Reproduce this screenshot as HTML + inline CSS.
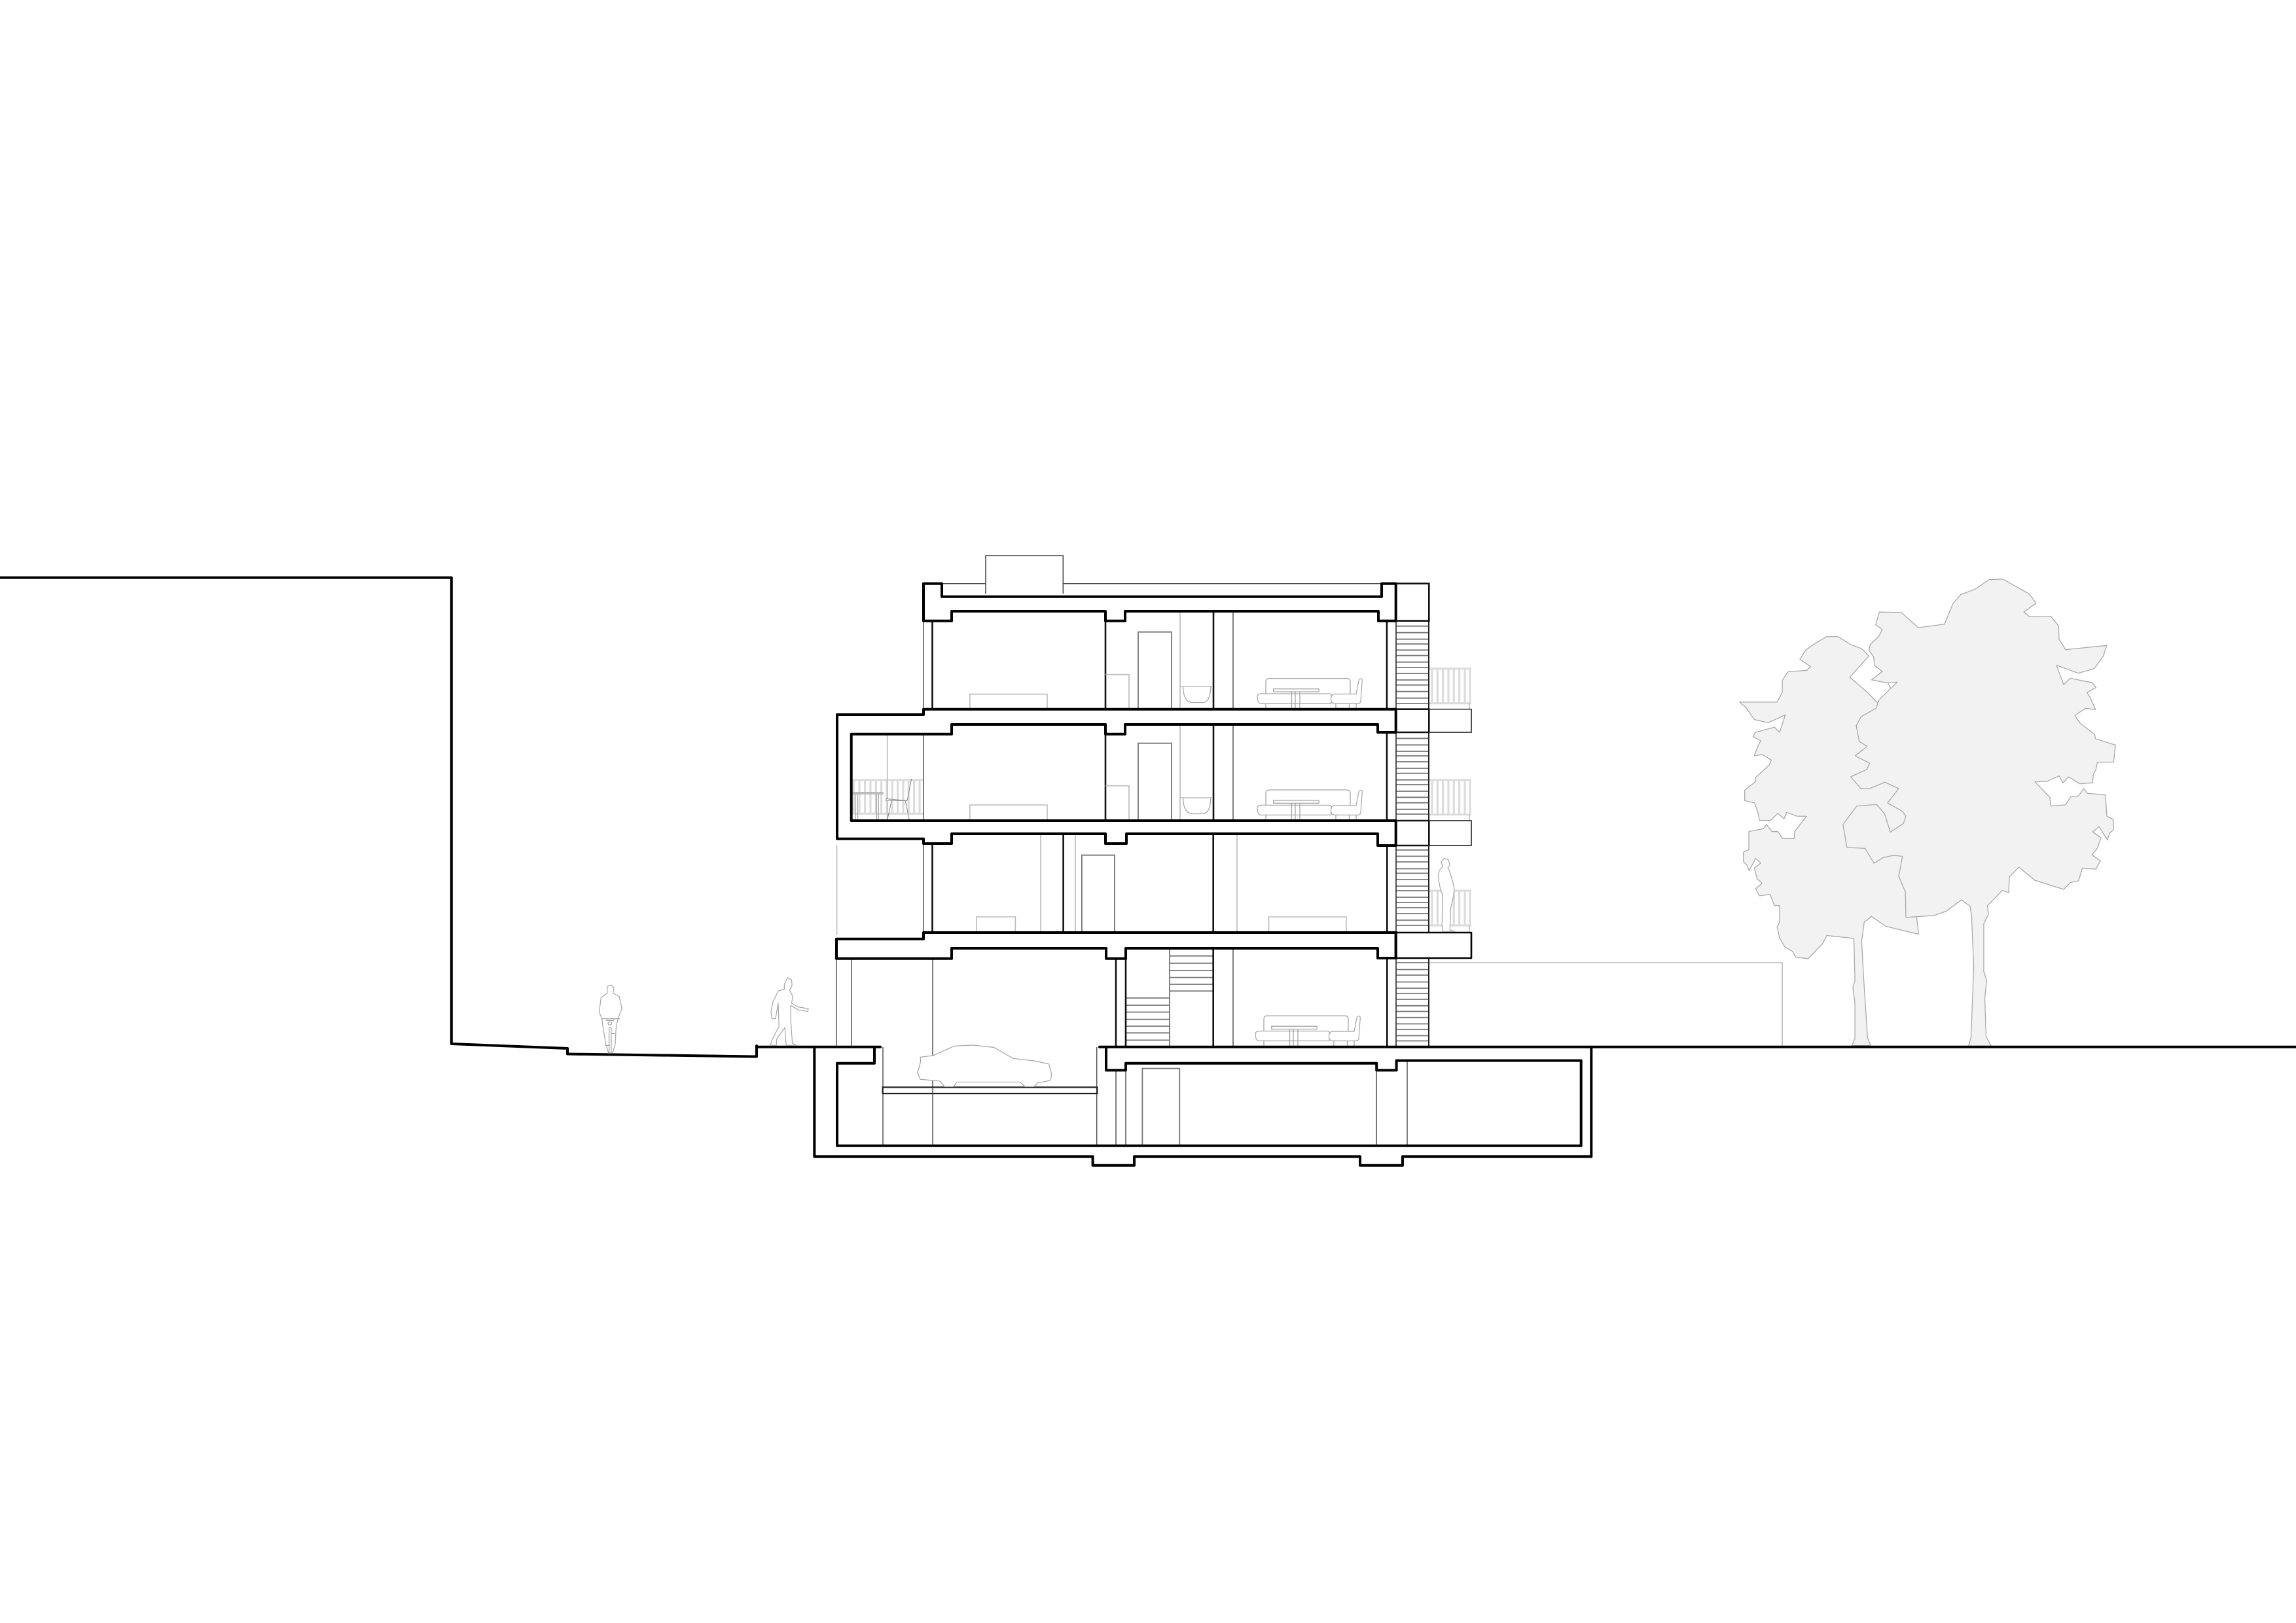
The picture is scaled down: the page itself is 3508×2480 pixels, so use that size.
<!DOCTYPE html>
<html>
<head>
<meta charset="utf-8">
<style>
html,body{margin:0;padding:0;background:#fff}
svg{display:block}
svg *{vector-effect:non-scaling-stroke}
.k{fill:none;stroke:#000;stroke-width:4;stroke-linejoin:round;stroke-linecap:round}
.m{fill:none;stroke:#111;stroke-width:2.6}
.d{fill:none;stroke:#555;stroke-width:1.5}
.s{fill:none;stroke:#777;stroke-width:1.8}
.g{fill:none;stroke:#bbb;stroke-width:1.6}
.f{fill:#fff;stroke:#a5a5a5;stroke-width:1.2;stroke-linejoin:round}
.fn{fill:none;stroke:#a5a5a5;stroke-width:1.3}
.r{fill:none;stroke:#dcdcdc;stroke-width:3.2}
.t{fill:#f2f2f2;stroke:#aaa;stroke-width:1.3;stroke-linejoin:round}
</style>
</head>
<body>
<svg xmlns="http://www.w3.org/2000/svg" width="3508" height="2480" viewBox="0 0 3508 2480">
<defs>
<g id="rail">
  <path class="r" d="M0,0H65M0,53H65M5,0V53M13.300,0V53M21.600,0V53M30,0V53M38.300,0V53M46.600,0V53M55,0V53M63,0V53"/>
  <path class="g" d="M62,53V62"/>
</g>
<g id="furn">
  <path class="fn" d="M1934,1060V1042Q1934,1036.700 1939,1036.700H2058Q2063,1036.700 2063,1042V1060"/>
  <path class="f" d="M1927,1060H2030Q2034,1060 2034,1062V1075H1927Q1923,1075 1922,1071L1921,1065Q1921,1060 1927,1060Z"/>
  <rect x="1945.700" y="1052.700" width="69.500" height="4.300" fill="#fff" stroke="#a5a5a5" stroke-width="1.300"/>
  <path class="fn" d="M1973.500,1057V1083.700M1979,1057V1083.700M1986,1057V1083.700"/>
  <path class="f" d="M2040,1060.500H2072L2076,1040Q2077,1037 2079,1037Q2081.500,1037 2081.300,1040L2079,1071Q2078.500,1075 2075,1075H2040Q2033.500,1075 2033.500,1068Q2033.500,1060.500 2040,1060.500Z"/>
  <path class="fn" d="M1934,1075V1083.700M2041,1075V1083.700M2061.500,1075V1083.700M2072,1075V1083.700"/>
</g>
<g id="sink">
  <path class="g" d="M1803,1049H1852"/>
  <path class="fn" d="M1807.500,1049Q1808,1073 1822,1073.500H1838Q1849,1073 1850,1049"/>
</g>
</defs>

<!-- Trees -->
<g transform="translate(2640,860) scale(0.3953,0.4859)">
<path class="t" d="M479,1518L491,1497L491,1385L483,1337L491,1312L487,1181L382,1172L367,1197L310,1245L262,1240L250,1222L220,1208L200,1180L190,1145L200,1130L200,1078L180,1078L163,1043L122,1047L107,1025L132,1008L113,993L102,960L127,944L107,930L82,968L73,950L60,940L60,910L81,902L81,845L137,836L149,823L170,845L193,845L211,867L257,867L258,845L304,797L268,797L227,785L217,805L193,788L165,810L122,810L115,783L103,755L65,748L65,715L107,688L107,675L160,636L168,620L133,603L102,607L115,578L127,560L97,546L107,533L180,517L200,533L222,478L155,503L102,493L70,455L45,438L190,438L210,408L210,370L232,343L305,338L320,326L278,304L300,275L325,260L382,232L425,232L475,257L517,270L545,293L471,360L540,408L578,440L800,600L730,1115L737,1168L610,1143L555,1112L527,1130L517,1190L525,1310L540,1495L552,1518Z"/>
<path class="t" d="M930,1520L940,1490L950,1270L942,1110L936,1080L903,1060L843,1096L797,1109L688,1115L686,1035L660,985L675,923L640,920L600,927L565,945L530,898L460,895L445,823L498,765L575,760L606,790L628,847L678,820L688,797L675,782L617,755L660,710L607,690L548,710L514,710L475,673L537,650L548,630L492,607L538,577L508,562L496,512L515,484L573,457L583,432L655,375L618,378L630,395L618,378L555,368L597,342L567,323L563,295L545,275L550,257L583,232L597,210L571,195L585,155L670,156L736,204L837,193L870,128L900,100L955,83L1010,53L1062,51L1165,98L1191,127L1144,155L1165,169L1248,168L1278,198L1280,240L1305,273L1464,260L1451,293L1416,333L1354,347L1270,322L1298,383L1323,363L1408,377L1423,392L1388,408L1400,423L1421,462L1384,457L1341,480L1362,505L1418,540L1420,553L1498,573L1491,627L1428,627L1423,648L1412,668L1410,692L1360,695L1317,673L1295,692L1280,670L1234,687L1187,689L1245,738L1247,765L1305,761L1325,736L1355,733L1375,710L1390,725L1459,730L1465,797L1490,807L1490,840L1475,850L1467,872L1435,830L1410,846L1442,865L1428,898L1407,918L1440,937L1422,963L1370,961L1355,1000L1325,1005L1298,1027L1185,998L1125,957L1088,988L1085,1037L1060,1030L1035,1052L1003,1078L1007,1105L989,1135L989,1285L1000,1312L993,1370L998,1490L1018,1520Z"/>
</g>

<!-- Gray wall right -->
<path class="g" d="M2183,1471H2723V1598"/>
<path class="g" d="M1278.600,1292V1429"/>

<!-- Penthouse and parapet -->
<path d="M1506,907.300V849H1624.300V907.300M1439,891.700H1506M1624.300,891.700H2111" fill="none" stroke="#444" stroke-width="1.500"/>

<!-- Railings -->
<use href="#rail" transform="translate(2183,1021.700)"/>
<use href="#rail" transform="translate(2183,1191.700)"/>
<use href="#rail" transform="translate(2183,1361)"/>
<path class="r" d="M1303,1191.700H1411M1303,1243.300H1411M1304.300,1191.700V1243.300M1313,1191.700V1243.300M1321.600,1191.700V1243.300M1330,1191.700V1243.300M1338.300,1191.700V1243.300M1346.600,1191.700V1243.300M1355,1191.700V1243.300M1363.300,1191.700V1243.300M1371.600,1191.700V1243.300M1380,1191.700V1243.300M1388.300,1191.700V1243.300M1396.600,1191.700V1243.300M1405,1191.700V1243.300"/>

<!-- Stairs -->
<path class="s" d="M2133,956.700H2183M2133,966.700H2183M2133,976.700H2183M2133,984H2183M2133,993.300H2183M2133,1001.700H2183M2133,1011.700H2183M2133,1020H2183M2133,1029H2183M2133,1039H2183M2133,1046.700H2183M2133,1056.700H2183M2133,1066.700H2183M2133,1075H2183"/>
<path class="s" d="M2133,1128.300H2183M2133,1138.300H2183M2133,1148H2183M2133,1155H2183M2133,1164H2183M2133,1174H2183M2133,1181.700H2183M2133,1191.700H2183M2133,1199H2183M2133,1209H2183M2133,1218.300H2183M2133,1226.700H2183M2133,1236.700H2183M2133,1244H2183"/>
<path class="s" d="M2133,1298.800H2183M2133,1308.400H2183M2133,1317H2183M2133,1327.500H2183M2133,1334.400H2183M2133,1344H2183M2133,1354H2183M2133,1361H2183M2133,1371H2183M2133,1379H2183M2133,1387H2183M2133,1396H2183M2133,1406H2183M2133,1414H2183"/>
<path class="s" d="M2133,1471H2183M2133,1481.500H2183M2133,1490H2183M2133,1500.500H2183M2133,1510H2183M2133,1518H2183M2133,1527H2183M2133,1536.800H2183M2133,1545.500H2183M2133,1554.800H2183M2133,1564.500H2183M2133,1573H2183M2133,1582.500H2183M2133,1590.500H2183"/>
<path d="M2133,948.700V1083.700M2133,1119V1254M2133,1292V1425M2133,1464V1598" fill="none" stroke="#333" stroke-width="1.700"/>
<path d="M2183,948.700V1083.700M2183,1119V1254M2183,1292V1425M2183,1464V1598" fill="none" stroke="#222" stroke-width="2"/>
<path class="s" d="M1720,1525H1787M1720,1536H1787M1720,1546.500H1787M1720,1557.600H1787M1720,1568H1787M1720,1578.300H1787M1720,1589.400H1787"/>
<path class="s" d="M1787,1460.700H1853M1787,1471.800H1853M1787,1483H1853M1787,1493.600H1853M1787,1504H1853M1787,1514.300H1853"/>
<path class="s" d="M1787,1449V1599"/>

<!-- Thin walls -->
<path class="d" d="M1411,948.700V1083.700M1411,1121.700V1254M1411,1289V1425M1884,934.300V1083.700M1884,1107V1254"/>
<path class="m" d="M1424.500,948.700V1083.700M1424.500,1289V1425M1689,948.700V1083.700M1689,1121.700V1254M1854,934.300V1083.700M1854,1107V1254M2119,948.700V1083.700M2119,1119V1254M2119.300,1292V1425M1624.600,1274V1425M1853.700,1274V1425"/>
<path class="g" d="M1355.700,1121.700V1254M1803,934.300V1083.700M1803,1107V1254M1590,1274V1425M1643,1274V1425M1890,1274V1425"/>

<!-- Doors -->
<path class="s" d="M1739,1083.700V965.700H1790V1083.700M1739,1254V1135.700H1790V1254M1652.900,1425V1306.700H1703V1425"/>

<!-- Furniture: beds and cabinets -->
<path class="g" d="M1481.800,1083.700V1060.700H1600V1083.700M1689,1030.700H1725V1083.700M1481.800,1254V1230H1600V1254M1689,1200.700H1725V1254M1491.800,1425V1401H1551.400V1425M1938.500,1425V1401H2056.800V1425"/>
<use href="#sink"/>
<use href="#sink" transform="translate(0,170)"/>
<use href="#furn"/>
<use href="#furn" transform="translate(0,170.300)"/>
<use href="#furn" transform="translate(-3,515.500)"/>

<!-- Balcony table and chair -->
<rect x="1303" y="1210.700" width="46.300" height="2.700" fill="#bdbdbd" stroke="#aaa" stroke-width="0.800"/>
<path class="fn" d="M1306.700,1213.400L1307.300,1254M1310,1213.400L1310.700,1254M1339.300,1213.400V1254M1342.300,1213.400V1254"/>
<path d="M1354,1220.500L1386,1223.500L1353.500,1223Z" fill="#fff" stroke="#8c8c8c" stroke-width="1.100"/>
<path d="M1386,1223.300L1392.700,1190M1362.300,1223.300L1355.700,1253M1383.300,1223.300L1389.300,1253" fill="none" stroke="#8c8c8c" stroke-width="1.100"/>

<!-- Parking lift -->
<path class="d" d="M1349,1600V1750.700M1425,1465V1750.700M1675.700,1600V1750.700M1278,1465V1599M1301,1465V1599M1884,1449V1599"/>
<path class="d" d="M1705,1635.400V1750.700M1720,1635.400V1750.700M2103.200,1635.400V1750.700M2150,1620.600V1750.700"/>
<path class="s" d="M1745.400,1750.700V1632.700H1802.300V1750.700"/>
<rect x="1348.600" y="1661.400" width="327.800" height="9.600" fill="none" stroke="#222" stroke-width="2.200"/>
<path class="m" d="M1705,1465V1599M1720,1465V1599M1853.700,1449V1599M2119.300,1465V1599"/>

<!-- Car -->
<g transform="translate(1240,1260) scale(0.35714,0.34602)">
<path class="f" d="M465,1027L520,1020L610,978L690,974L780,984L863,1033L950,1043L1015,1057L1023,1085L1027,1105L1022,1130L985,1137L968,1140L952,1157L912,1157L893,1137L622,1137L607,1157L568,1157L550,1133L520,1130L465,1125L452,1095L458,1080L467,1045Z"/>
</g>

<!-- Structure: thick outlines -->
<path class="k" d="M1411,948.700V891.700H1439V911.700H2111V891.700H2132.700V948.700H2106V934H1719V948.700H1689V934H1454V948.700Z"/>
<path class="k" d="M1411,1083.700H2132.700V1119H2105V1107H1719V1121.700H1689V1107H1454V1121.700H1300.700V1254H2132.700V1292H2105V1274H1721V1289H1689V1274H1454V1289H1411V1281.700H1279V1092H1411Z"/>
<path class="k" d="M1411,1425H2132.700V1464H2105V1449H1720V1464.800H1690V1449H1454V1464.800H1278V1434.700H1411Z"/>
<path d="M2133,891.700H2183.300V948.700H2133M2133,1083.700H2183.300V1119H2133M2133,1254H2183.300V1292H2133" fill="none" stroke="#111" stroke-width="2.600"/>
<path d="M2183,1083.700H2248V1119H2183M2183,1254H2248V1292H2183" fill="none" stroke="#333" stroke-width="1.700"/>
<path d="M2132.700,1425H2248V1464H2132.700Z" fill="none" stroke="#000" stroke-width="2.600" stroke-linejoin="round"/>
<path d="M2132.700,1423V1466" fill="none" stroke="#000" stroke-width="4"/>
<path class="k" d="M1680,1599.800H3508"/>
<path class="k" d="M1690,1599.800V1635.400H1720V1624.700H2103.200V1635.400H2133.600V1620.600H2415.700V1750.700H1279V1624.700H1336V1599.800"/>
<path class="k" d="M1156,1599.800H1345"/>
<path class="k" d="M1244.300,1599.800V1767.300H1669.600V1780.800H1733V1767.300H2078V1780.800H2143V1767.300H2431.300V1599.800"/>
<path class="k" d="M0,882.600H689.800V1595L867,1602V1610.500L1156,1614.500V1598"/>

<!-- People -->
<g transform="translate(1780,1260) scale(0.44643,0.34602)">
<path class="f" d="M945,165L955,150L970,155L975,180L968,190L975,210L983,245L990,280L988,310L978,370L975,465L992,472L950,472L948,440L950,310L945,295L940,270L935,230L938,205L950,185Z"/>
</g>
<g transform="translate(640,1460) scale(0.40816,0.339)">
<path class="f" d="M1368,130L1380,100L1395,110L1397,135L1388,158L1400,185L1395,215L1420,232L1458,240L1455,252L1420,245L1392,225L1392,290L1398,395L1413,405L1375,405L1370,325L1340,375L1338,405L1316,405L1322,380L1348,320L1345,215L1335,285L1322,285L1318,255L1325,210L1345,160L1368,152Z"/>
<path class="f" d="M705,140L720,133L730,145L727,170L750,185L760,240L745,285L738,330L735,400L725,440L710,440L700,400L690,330L685,285L675,255L682,190L705,170Z"/>
<path class="fn" d="M683,285H752M703,285V293H728V285M712,325V440M720,325V440M712,325H720M698,405H715M722,352H735"/>
<circle class="fn" cx="715" cy="306" r="7"/>
</g>
</svg>
</body>
</html>
